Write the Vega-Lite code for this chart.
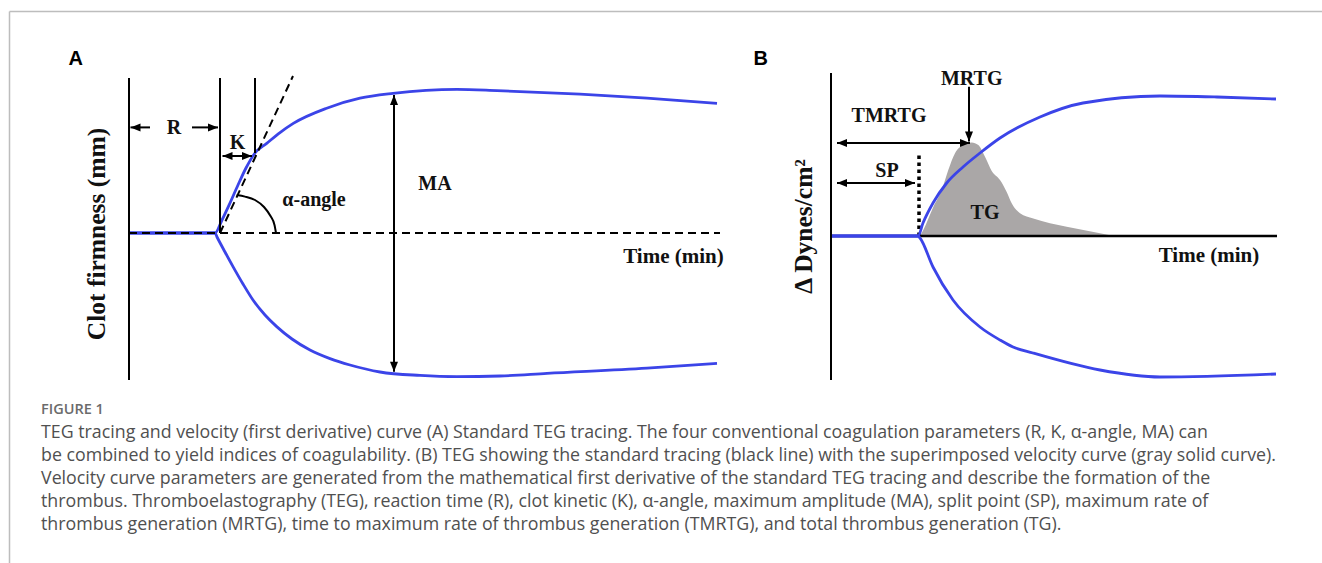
{
  "$schema": "https://vega.github.io/schema/vega-lite/v6.json",
  "width": 1322,
  "height": 563,
  "autosize": {"type": "fit", "contains": "padding"},
  "padding": {"left": 9, "top": 11, "right": 0, "bottom": 0},
  "background": "#ffffff",
  "config": {"view": {"stroke": null}},
  "datasets": {
    "capLabel": [{"col": 0, "line": 0, "text": "FIGURE 1"}],
    "capBody": [
      {"col": 0, "line": 1, "text": "TEG tracing and velocity (first derivative) curve (A) Standard TEG tracing. The four conventional coagulation parameters (R, K, α-angle, MA) can"},
      {"col": 0, "line": 2, "text": "be combined to yield indices of coagulability. (B) TEG showing the standard tracing (black line) with the superimposed velocity curve (gray solid curve)."},
      {"col": 0, "line": 3, "text": "Velocity curve parameters are generated from the mathematical first derivative of the standard TEG tracing and describe the formation of the"},
      {"col": 0, "line": 4, "text": "thrombus. Thromboelastography (TEG), reaction time (R), clot kinetic (K), α-angle, maximum amplitude (MA), split point (SP), maximum rate of"},
      {"col": 0, "line": 5, "text": "thrombus generation (MRTG), time to maximum rate of thrombus generation (TMRTG), and total thrombus generation (TG)."}
    ],
    "aCurves": [
      {"series": "up", "t": 0, "a": 0}, {"series": "up", "t": 8.6, "a": 0}, {"series": "up", "t": 9.3, "a": 3.25},
      {"series": "up", "t": 10.1, "a": 7.5}, {"series": "up", "t": 10.9, "a": 12}, {"series": "up", "t": 11.7, "a": 16.25},
      {"series": "up", "t": 12.6, "a": 20}, {"series": "up", "t": 13.77, "a": 22.4}, {"series": "up", "t": 15.1, "a": 25.1},
      {"series": "up", "t": 16.43, "a": 27.4}, {"series": "up", "t": 19.77, "a": 31.2}, {"series": "up", "t": 23.1, "a": 33.7},
      {"series": "up", "t": 26.4, "a": 34.9}, {"series": "up", "t": 32.8, "a": 35.9}, {"series": "up", "t": 36.8, "a": 35.6},
      {"series": "up", "t": 45.1, "a": 34.7}, {"series": "up", "t": 51.8, "a": 33.7}, {"series": "up", "t": 58.8, "a": 32.4},
      {"series": "lo", "t": 0, "a": 0}, {"series": "lo", "t": 8.6, "a": 0}, {"series": "lo", "t": 8.8, "a": -1},
      {"series": "lo", "t": 9.6, "a": -4.75}, {"series": "lo", "t": 10.4, "a": -8.4}, {"series": "lo", "t": 11.4, "a": -12.75},
      {"series": "lo", "t": 12.4, "a": -16.75}, {"series": "lo", "t": 13.6, "a": -20.5}, {"series": "lo", "t": 14.77, "a": -23.4},
      {"series": "lo", "t": 16.3, "a": -26.5}, {"series": "lo", "t": 18.1, "a": -29.25}, {"series": "lo", "t": 20.1, "a": -31.4},
      {"series": "lo", "t": 22.1, "a": -33}, {"series": "lo", "t": 25.1, "a": -34.75}, {"series": "lo", "t": 29.1, "a": -35.6},
      {"series": "lo", "t": 32.8, "a": -35.9}, {"series": "lo", "t": 37.1, "a": -35.75}, {"series": "lo", "t": 41.8, "a": -35.1},
      {"series": "lo", "t": 51.8, "a": -33.8}, {"series": "lo", "t": 58.8, "a": -32.6}
    ],
    "aRules": [
      {"t": 0, "a": -36.75, "t2": 0, "a2": 38.75},
      {"t": 9.1, "a": 0, "t2": 9.1, "a2": 38.75},
      {"t": 12.6, "a": 20, "t2": 12.6, "a2": 38.75},
      {"t": 0.15, "a": 26.4, "t2": 2.1, "a2": 26.4},
      {"t": 6.3, "a": 26.4, "t2": 8.9, "a2": 26.4},
      {"t": 9.35, "a": 19.25, "t2": 12.3, "a2": 19.25},
      {"t": 26.5, "a": 34.5, "t2": 26.5, "a2": -34.7}
    ],
    "aHeads": [
      {"t": 0.15, "a": 26.4, "dir": "l"}, {"t": 8.9, "a": 26.4, "dir": "r"},
      {"t": 9.35, "a": 19.25, "dir": "l"}, {"t": 12.3, "a": 19.25, "dir": "r"},
      {"t": 26.5, "a": 34.5, "dir": "u"}, {"t": 26.5, "a": -34.7, "dir": "d"}
    ],
    "aDashed": [
      {"t": 0, "a": 0, "t2": 59.1, "a2": 0},
      {"t": 9.1, "a": 0, "t2": 16.4, "a2": 39.25}
    ],
    "aArc": [
      {"t": 10.77, "a": 9.5}, {"t": 11.6, "a": 9.1}, {"t": 12.6, "a": 8.25}, {"t": 13.5, "a": 6.5},
      {"t": 14.15, "a": 4.25}, {"t": 14.55, "a": 2}, {"t": 14.7, "a": 0}
    ],
    "aText": [
      {"t": 4.5, "a": 26.25, "text": "R", "kind": "label"},
      {"t": 10.85, "a": 22.4, "text": "K", "kind": "label"},
      {"t": 18.5, "a": 8.25, "text": "α-angle", "kind": "label"},
      {"t": 30.6, "a": 12.25, "text": "MA", "kind": "label"},
      {"t": 54.45, "a": -5.9, "text": "Time (min)", "kind": "axis"},
      {"t": -3.2, "a": -0.25, "text": "Clot firmness (mm)", "kind": "ytitle"},
      {"t": -5.33, "a": 43.5, "text": "A", "kind": "letter"}
    ],
    "bArea": [
      {"t": 8.9, "a": 0}, {"t": 9.23, "a": 1.5}, {"t": 10.23, "a": 7.25}, {"t": 11.07, "a": 11.5},
      {"t": 11.73, "a": 16.5}, {"t": 12.4, "a": 20.7}, {"t": 13.23, "a": 22.75}, {"t": 14.07, "a": 23.4},
      {"t": 14.73, "a": 22.75}, {"t": 15.4, "a": 19.8}, {"t": 16.07, "a": 16.25}, {"t": 16.9, "a": 14},
      {"t": 17.57, "a": 11}, {"t": 18.07, "a": 8.2}, {"t": 18.9, "a": 5.7}, {"t": 20.23, "a": 4.4},
      {"t": 23.57, "a": 2.3}, {"t": 26.9, "a": 0.7}, {"t": 28.4, "a": 0}
    ],
    "bCurves": [
      {"series": "up", "t": 0, "a": 0}, {"series": "up", "t": 8.7, "a": 0}, {"series": "up", "t": 9.2, "a": 3.25},
      {"series": "up", "t": 10.2, "a": 8.25}, {"series": "up", "t": 11.57, "a": 13.25}, {"series": "up", "t": 13.2, "a": 17.25},
      {"series": "up", "t": 14.9, "a": 20.75}, {"series": "up", "t": 16.9, "a": 24.5}, {"series": "up", "t": 20.9, "a": 29.75},
      {"series": "up", "t": 25.2, "a": 33.25}, {"series": "up", "t": 32.9, "a": 35}, {"series": "up", "t": 38.6, "a": 34.75},
      {"series": "up", "t": 44.5, "a": 34.25},
      {"series": "lo", "t": 0, "a": 0}, {"series": "lo", "t": 8.7, "a": 0}, {"series": "lo", "t": 8.9, "a": -0.5},
      {"series": "lo", "t": 10.2, "a": -7.75}, {"series": "lo", "t": 12.2, "a": -16}, {"series": "lo", "t": 14.9, "a": -22.75},
      {"series": "lo", "t": 16.9, "a": -26}, {"series": "lo", "t": 18.2, "a": -27.75}, {"series": "lo", "t": 20.2, "a": -29.25},
      {"series": "lo", "t": 26.9, "a": -33.5}, {"series": "lo", "t": 32.9, "a": -35.25}, {"series": "lo", "t": 44.5, "a": -34.5}
    ],
    "bRules": [
      {"t": 0, "a": -36, "t2": 0, "a2": 40.75},
      {"t": 0.6, "a": 23.25, "t2": 13.9, "a2": 23.25},
      {"t": 0.6, "a": 13.25, "t2": 8.4, "a2": 13.25},
      {"t": 13.8, "a": 37.3, "t2": 13.8, "a2": 23.6}
    ],
    "bHeads": [
      {"t": 0.6, "a": 23.25, "dir": "l"}, {"t": 13.9, "a": 23.25, "dir": "r"},
      {"t": 0.6, "a": 13.25, "dir": "l"}, {"t": 8.4, "a": 13.25, "dir": "r"},
      {"t": 13.8, "a": 23.6, "dir": "d"}
    ],
    "bBase": [{"t": 0, "a": 0, "t2": 44.6, "a2": 0}],
    "bDotted": [{"t": 8.8, "a": 0, "t2": 8.8, "a2": 20.75}],
    "bText": [
      {"t": 5.8, "a": 30, "text": "TMRTG", "kind": "label"},
      {"t": 5.6, "a": 16.25, "text": "SP", "kind": "label"},
      {"t": 14.07, "a": 39.25, "text": "MRTG", "kind": "label"},
      {"t": 15.4, "a": 5.7, "text": "TG", "kind": "label"},
      {"t": 37.8, "a": -5.1, "text": "Time (min)", "kind": "axis"},
      {"t": -2.7, "a": 2.4, "text": "Δ Dynes/cm²", "kind": "ytitle"},
      {"t": -7.03, "a": 44.2, "text": "B", "kind": "letter"}
    ]
  },
  "layer": [
    {
      "layer": [
        {
          "data": {"name": "capLabel"},
          "mark": {"type": "text", "align": "left", "baseline": "middle", "font": "Open Sans", "fontSize": 14.5, "fontWeight": 600, "color": "#6b6b6b"},
          "encoding": {
            "x": {"field": "col", "type": "quantitative", "scale": {"domain": [-1, 40], "nice": false, "zero": false}, "axis": {"orient": "top", "domain": true, "domainColor": "#bdbdbd", "domainWidth": 1.5, "ticks": false, "labels": false, "grid": false, "title": null}},
            "y": {"field": "line", "type": "quantitative", "scale": {"domain": [-17.35, 6.65], "reverse": true, "nice": false, "zero": false}, "axis": {"orient": "left", "domain": true, "domainColor": "#bdbdbd", "domainWidth": 1.5, "ticks": false, "labels": false, "grid": false, "title": null}},
            "text": {"field": "text"}
          }
        },
        {
          "data": {"name": "capBody"},
          "mark": {"type": "text", "align": "left", "baseline": "middle", "font": "Open Sans", "fontSize": 17.8, "color": "#505050"},
          "encoding": {
            "x": {"field": "col", "type": "quantitative", "scale": {"domain": [-1, 40], "nice": false, "zero": false}, "axis": {"orient": "top", "domain": true, "domainColor": "#bdbdbd", "domainWidth": 1.5, "ticks": false, "labels": false, "grid": false, "title": null}},
            "y": {"field": "line", "type": "quantitative", "scale": {"domain": [-17.35, 6.65], "reverse": true, "nice": false, "zero": false}, "axis": {"orient": "left", "domain": true, "domainColor": "#bdbdbd", "domainWidth": 1.5, "ticks": false, "labels": false, "grid": false, "title": null}},
            "text": {"field": "text"}
          }
        }
      ]
    },
    {
      "encoding": {
        "x": {"field": "t", "type": "quantitative", "scale": {"domain": [-12, 119.3], "nice": false, "zero": false}, "axis": null},
        "y": {"field": "a", "type": "quantitative", "scale": {"domain": [-82.5, 55.5], "nice": false, "zero": false}, "axis": null}
      },
      "layer": [
        {
          "data": {"name": "aCurves"},
          "mark": {"type": "line", "color": "#3b44e8", "strokeWidth": 2.8, "interpolate": "monotone"},
          "encoding": {"detail": {"field": "series"}}
        },
        {
          "data": {"name": "aDashed"},
          "mark": {"type": "rule", "color": "#000000", "strokeWidth": 2, "strokeDash": [8, 5]},
          "encoding": {"x2": {"field": "t2"}, "y2": {"field": "a2"}}
        },
        {
          "data": {"name": "aRules"},
          "mark": {"type": "rule", "color": "#000000", "strokeWidth": 2},
          "encoding": {"x2": {"field": "t2"}, "y2": {"field": "a2"}}
        },
        {
          "data": {"name": "aArc"},
          "mark": {"type": "line", "color": "#000000", "strokeWidth": 2, "interpolate": "monotone"},
          "encoding": {}
        },
        {
          "data": {"name": "aHeads"},
          "mark": {"type": "point", "filled": true, "color": "#000000", "opacity": 1, "size": 100},
          "encoding": {"shape": {"field": "dir", "type": "nominal", "scale": {"domain": ["l", "r", "u", "d"], "range": ["M0,0L2,-0.8L2,0.8Z", "M0,0L-2,-0.8L-2,0.8Z", "M0,0L-0.8,2L0.8,2Z", "M0,0L-0.8,-2L0.8,-2Z"]}, "legend": null}}
        },
        {
          "data": {"name": "aText"},
          "transform": [{"filter": "datum.kind === 'label'"}],
          "mark": {"type": "text", "font": "Liberation Serif", "fontWeight": "bold", "fontSize": 20, "color": "#111111", "align": "center", "baseline": "middle"},
          "encoding": {"text": {"field": "text"}}
        },
        {
          "data": {"name": "aText"},
          "transform": [{"filter": "datum.kind === 'axis'"}],
          "mark": {"type": "text", "font": "Liberation Serif", "fontWeight": "bold", "fontSize": 21, "color": "#111111", "align": "center", "baseline": "middle"},
          "encoding": {"text": {"field": "text"}}
        },
        {
          "data": {"name": "aText"},
          "transform": [{"filter": "datum.kind === 'ytitle'"}],
          "mark": {"type": "text", "font": "Liberation Serif", "fontWeight": "bold", "fontSize": 25.5, "color": "#111111", "align": "center", "baseline": "middle", "angle": 270},
          "encoding": {"text": {"field": "text"}}
        },
        {
          "data": {"name": "aText"},
          "transform": [{"filter": "datum.kind === 'letter'"}],
          "mark": {"type": "text", "font": "Liberation Sans", "fontWeight": "bold", "fontSize": 20, "color": "#000000", "align": "center", "baseline": "middle"},
          "encoding": {"text": {"field": "text"}}
        }
      ]
    },
    {
      "encoding": {
        "x": {"field": "t", "type": "quantitative", "scale": {"domain": [-82.2, 49.1], "nice": false, "zero": false}, "axis": null},
        "y": {"field": "a", "type": "quantitative", "scale": {"domain": [-81.75, 56.25], "nice": false, "zero": false}, "axis": null}
      },
      "layer": [
        {
          "data": {"name": "bArea"},
          "mark": {"type": "area", "color": "#aaa7a7", "opacity": 1, "interpolate": "monotone"},
          "encoding": {"y2": {"datum": 0}}
        },
        {
          "data": {"name": "bBase"},
          "mark": {"type": "rule", "color": "#000000", "strokeWidth": 2.5},
          "encoding": {"x2": {"field": "t2"}, "y2": {"field": "a2"}}
        },
        {
          "data": {"name": "bDotted"},
          "mark": {"type": "rule", "color": "#000000", "strokeWidth": 3.5, "strokeDash": [3.5, 3.5]},
          "encoding": {"x2": {"field": "t2"}, "y2": {"field": "a2"}}
        },
        {
          "data": {"name": "bCurves"},
          "mark": {"type": "line", "color": "#3b44e8", "strokeWidth": 2.8, "interpolate": "monotone"},
          "encoding": {"detail": {"field": "series"}}
        },
        {
          "data": {"name": "bRules"},
          "mark": {"type": "rule", "color": "#000000", "strokeWidth": 2},
          "encoding": {"x2": {"field": "t2"}, "y2": {"field": "a2"}}
        },
        {
          "data": {"name": "bHeads"},
          "mark": {"type": "point", "filled": true, "color": "#000000", "opacity": 1, "size": 100},
          "encoding": {"shape": {"field": "dir", "type": "nominal", "scale": {"domain": ["l", "r", "u", "d"], "range": ["M0,0L2,-0.8L2,0.8Z", "M0,0L-2,-0.8L-2,0.8Z", "M0,0L-0.8,2L0.8,2Z", "M0,0L-0.8,-2L0.8,-2Z"]}, "legend": null}}
        },
        {
          "data": {"name": "bText"},
          "transform": [{"filter": "datum.kind === 'label'"}],
          "mark": {"type": "text", "font": "Liberation Serif", "fontWeight": "bold", "fontSize": 20, "color": "#111111", "align": "center", "baseline": "middle"},
          "encoding": {"text": {"field": "text"}}
        },
        {
          "data": {"name": "bText"},
          "transform": [{"filter": "datum.kind === 'axis'"}],
          "mark": {"type": "text", "font": "Liberation Serif", "fontWeight": "bold", "fontSize": 21, "color": "#111111", "align": "center", "baseline": "middle"},
          "encoding": {"text": {"field": "text"}}
        },
        {
          "data": {"name": "bText"},
          "transform": [{"filter": "datum.kind === 'ytitle'"}],
          "mark": {"type": "text", "font": "Liberation Serif", "fontWeight": "bold", "fontSize": 25.5, "color": "#111111", "align": "center", "baseline": "middle", "angle": 270},
          "encoding": {"text": {"field": "text"}}
        },
        {
          "data": {"name": "bText"},
          "transform": [{"filter": "datum.kind === 'letter'"}],
          "mark": {"type": "text", "font": "Liberation Sans", "fontWeight": "bold", "fontSize": 20, "color": "#000000", "align": "center", "baseline": "middle"},
          "encoding": {"text": {"field": "text"}}
        }
      ]
    }
  ],
  "resolve": {"scale": {"x": "independent", "y": "independent"}}
}
